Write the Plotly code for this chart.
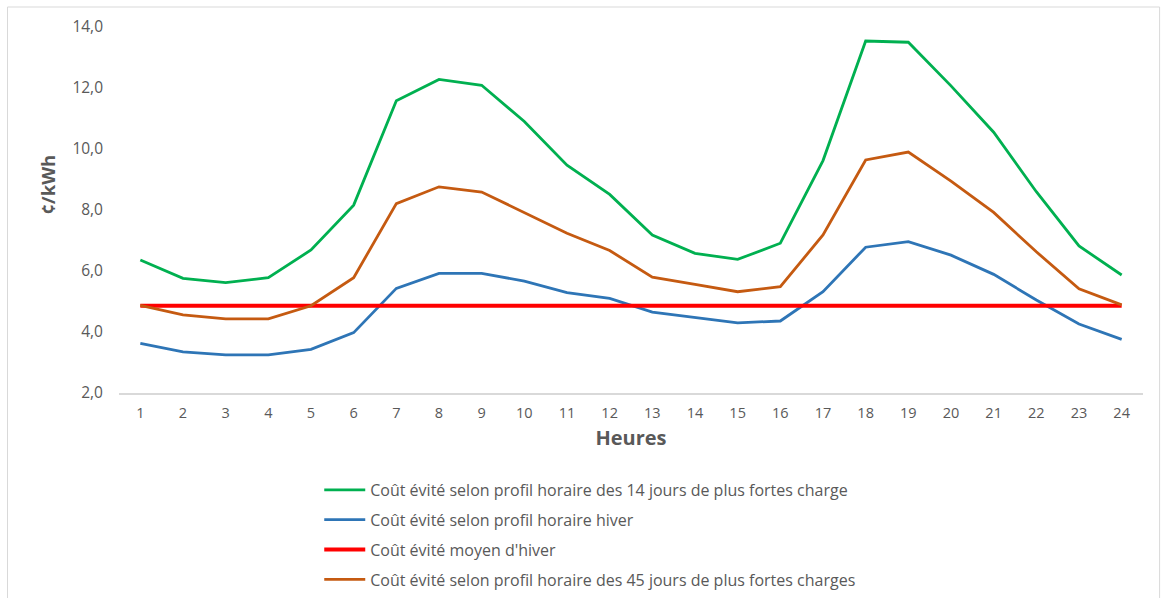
import plotly.graph_objects as go

hours = list(range(1, 25))
tick_labels = [str(h) for h in hours]

green_14j = [6.36, 5.76, 5.62, 5.78, 6.69, 8.16, 11.58, 12.28, 12.09, 10.90, 9.47, 8.51,
             7.18, 6.58, 6.38, 6.91, 9.62, 13.54, 13.50, 12.07, 10.55, 8.60, 6.82, 5.87]
blue_hiver = [3.63, 3.35, 3.25, 3.25, 3.43, 3.98, 5.43, 5.92, 5.92, 5.67, 5.29, 5.10,
              4.65, 4.47, 4.30, 4.36, 5.32, 6.78, 6.96, 6.52, 5.89, 5.05, 4.26, 3.76]
red_moyen_value = 4.86
red_moyen = [red_moyen_value] * 24
orange_45j = [4.87, 4.56, 4.43, 4.43, 4.86, 5.78, 8.21, 8.76, 8.59, 7.91, 7.24, 6.67,
              5.80, 5.56, 5.32, 5.49, 7.18, 9.64, 9.90, 8.95, 7.92, 6.63, 5.42, 4.89]

y_ticks = [2, 4, 6, 8, 10, 12, 14]
y_tick_labels = ["2,0", "4,0", "6,0", "8,0", "10,0", "12,0", "14,0"]

names = [
    "Coût évité selon profil horaire des 14 jours de plus fortes charge",
    "Coût évité selon profil horaire hiver",
    "Coût évité moyen d'hiver",
    "Coût évité selon profil horaire des 45 jours de plus fortes charges",
]

FONT = "Open Sans"
W, H = 1162, 598
L, R, T, B = 118.6, 18.6, 27, 205
PW = W - L - R
PH = H - T - B

fig = go.Figure()
series = [
    (green_14j, names[0], "#00B050", 2.8),
    (blue_hiver, names[1], "#2E75B6", 2.8),
    (red_moyen, names[2], "#FF0000", 4),
    (orange_45j, names[3], "#C55A11", 2.8),
]
for i, (vals, name, color, w) in enumerate(series):
    fig.add_trace(go.Scatter(
        x=hours, y=vals, name=name, mode="lines",
        line=dict(color=color, width=w),
        legendgroup=f"g{i}",
    ))

fig.update_layout(
    width=W, height=H,
    margin=dict(l=L, r=R, t=T, b=B, autoexpand=False),
    paper_bgcolor="white", plot_bgcolor="white",
    font=dict(family=FONT, color="#595959", size=15),
    showlegend=True,
    legend=dict(
        x=(319 - L) / PW, y=-(473 - 393) / PH,
        xanchor="left", yanchor="top",
        font=dict(size=16, color="#595959", family=FONT),
        tracegroupgap=6, itemwidth=41,
        bgcolor="rgba(0,0,0,0)",
    ),
    xaxis=dict(
        range=[0.5, 24.5], tickmode="array", tickvals=hours, ticktext=tick_labels,
        showgrid=False, showline=True, linecolor="#D9D9D9", linewidth=1.5,
        ticks="", zeroline=False, ticklabelstandoff=6,
        tickfont=dict(size=14.5, color="#595959"),
        title=dict(text="<b>Heures</b>", font=dict(size=20, color="#595959"), standoff=10),
    ),
    yaxis=dict(
        range=[2, 14], tickmode="array", tickvals=y_ticks, ticktext=y_tick_labels,
        showgrid=False, showline=False, zeroline=False, ticks="",
        ticklabelstandoff=15,
        tickfont=dict(size=15.5, color="#595959"),
    ),
    annotations=[dict(
        text="<b>¢/kWh</b>", xref="paper", yref="paper",
        x=(47 - L) / PW, y=(393 - 184) / PH, textangle=-90,
        showarrow=False, xanchor="center", yanchor="middle",
        font=dict(size=18.5, color="#595959", family=FONT),
    )],
    shapes=[dict(
        type="rect", xref="paper", yref="paper",
        x0=(7 - L) / PW, x1=(1160 - L) / PW,
        y0=(393 - 620) / PH, y1=(393 - 7) / PH,
        line=dict(color="#D9D9D9", width=1), fillcolor="rgba(0,0,0,0)", layer="below",
    )],
)

fig.write_html("out.html", config={"displayModeBar": False},
               post_script="document.body.style.margin='0';")
